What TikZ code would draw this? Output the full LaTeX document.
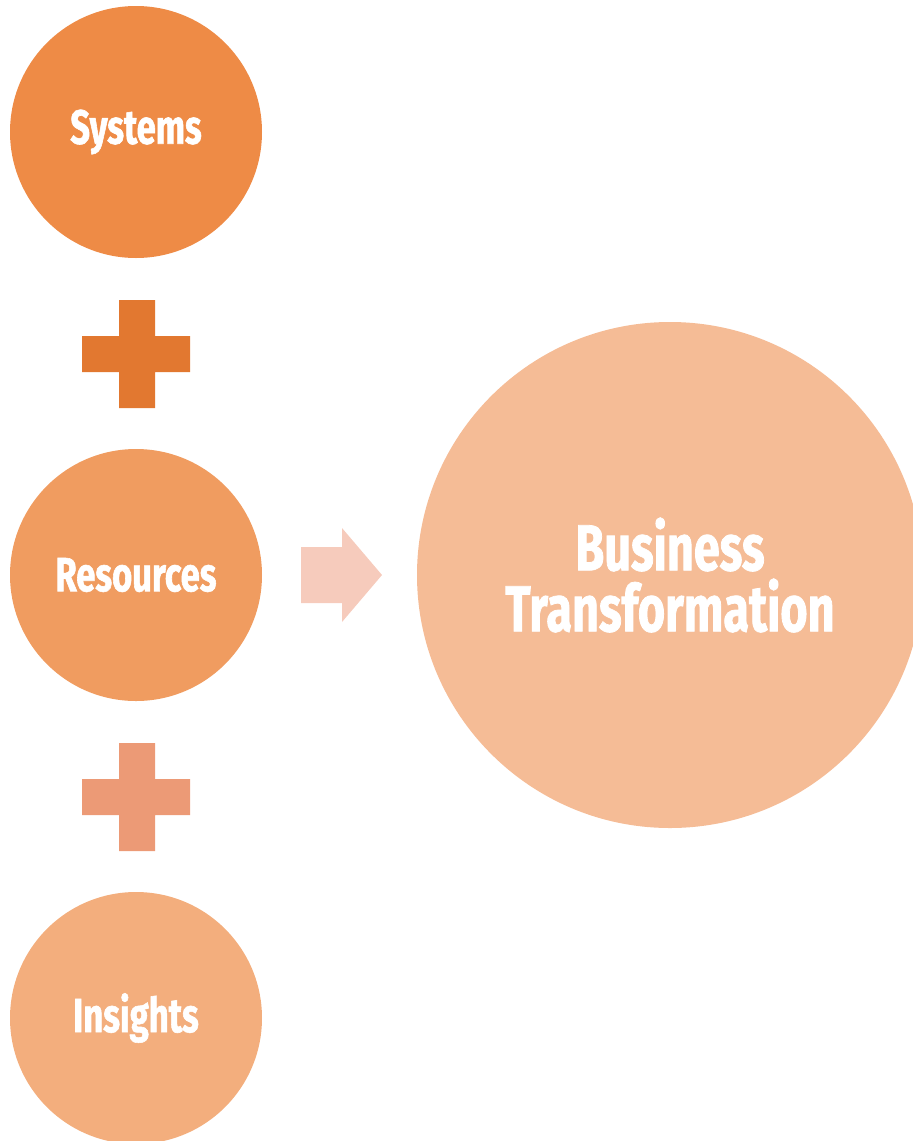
\documentclass[tikz,border=0pt]{standalone}
\usepackage{fontspec}
\setmainfont{Fira Sans}[FakeStretch=0.72,FakeBold=1.2,UprightFont=* Bold]
\definecolor{csys}{HTML}{EE8B46}
\definecolor{cplusa}{HTML}{E27830}
\definecolor{cres}{HTML}{F09C60}
\definecolor{cplusb}{HTML}{EC9A76}
\definecolor{cins}{HTML}{F3AE7D}
\definecolor{carrow}{HTML}{F6CBBC}
\definecolor{cbig}{HTML}{F5BC96}
\begin{document}
\begin{tikzpicture}[x=1pt,y=-1pt,
  blob/.style={circle,inner sep=0pt,minimum size=252pt,text=white,font=\fontsize{48}{52}\selectfont},
  bigblob/.style={circle,inner sep=0pt,minimum size=506pt,text=white,align=center,font=\fontsize{65}{61}\selectfont}]
\useasboundingbox (0,0) rectangle (913,1141);
\begin{scope}
\clip (0,0) rectangle (913,1141);
\node[blob,fill=csys] (sys) at (136,132) {Systems};
\node[blob,fill=cres] (res) at (136,575) {Resources};
\node[blob,fill=cins] (ins) at (136,1018) {Insights};
\node[bigblob,fill=cbig] (bt) at (670,575) {Business\\Transformation};
\end{scope}
\fill[cplusa] (119,300) rectangle (155,408) (82,336) rectangle (190,372);
\fill[cplusb] (119,743) rectangle (155,851) (82,779) rectangle (190,815);
\fill[carrow] (301,547) -- (342,547) -- (342,528) -- (382,575) -- (342,622) -- (342,603) -- (301,603) -- cycle;
\end{tikzpicture}
\end{document}
